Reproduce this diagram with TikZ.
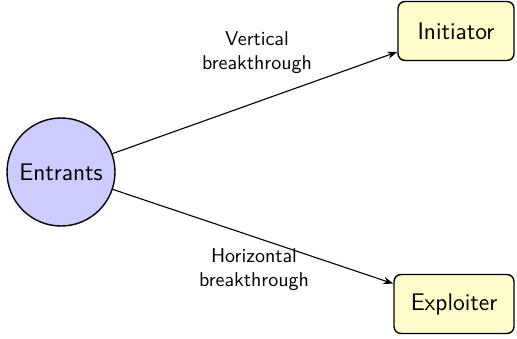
\documentclass[tikz,border=0pt]{standalone}
\usetikzlibrary{arrows.meta}
\begin{document}
\begin{tikzpicture}[x=1pt,y=1pt,
  font=\sffamily,
  entrant/.style={circle, draw, line width=0.7pt, fill=blue!20, minimum size=54pt, inner sep=0pt, font=\sffamily\large},
  role/.style={rectangle, rounded corners=3.5pt, draw, line width=0.7pt, fill=yellow!20, minimum height=29.5pt, inner sep=0pt, font=\sffamily\large},
  link/.style={-{Stealth[length=5pt,width=3.6pt]}, line width=0.55pt},
  lbl/.style={align=center, font=\sffamily\normalsize}]
\useasboundingbox (0,0) rectangle (258.5,169);
\node[entrant] (ent) at (30.5,83) {Entrants};
\node[role, minimum width=58pt] (ini) at (228,153.5) {Initiator};
\node[role, minimum width=60pt] (exp) at (227,17) {Exploiter};
\draw[link] (ent) -- (ini);
\draw[link] (ent) -- (exp);
\node[lbl] (l1) at (128.5,142.5) {Vertical\\breakthrough};
\node[lbl] (l2) at (127,34) {Horizontal\\breakthrough};
\end{tikzpicture}
\end{document}
